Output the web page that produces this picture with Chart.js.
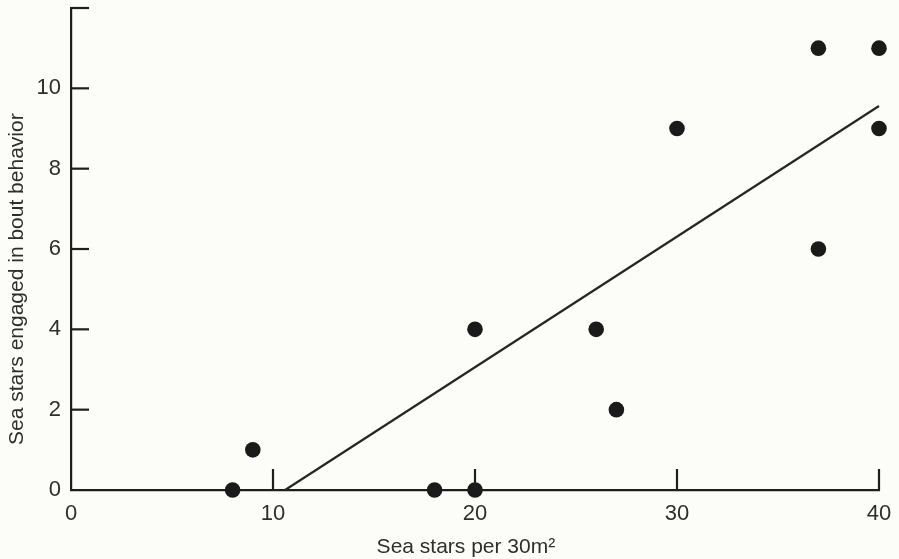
<!DOCTYPE html>
<html>
<head>
<meta charset="utf-8">
<script src="https://cdn.jsdelivr.net/npm/chart.js@4/dist/chart.umd.min.js"></script>
<style>
html,body{margin:0;padding:0;background:#fcfcf8;}
#wrap{width:899px;height:559px;}
</style>
</head>
<body>
<div id="wrap"><canvas id="c" width="899" height="559"></canvas></div>
<script>
// Data
const starDensity = [8, 9, 18, 20, 20, 26, 27, 30, 37, 37, 40, 40];
const boutCount   = [0, 1, 0, 0, 4, 4, 2, 9, 11, 6, 11, 9];
const fitX = [10.6, 40];
const fitY = [0, 9.56];
const xTickValues = [0, 10, 20, 30, 40];
const yTickValues = [0, 2, 4, 6, 8, 10];
const xInwardTicks = [10, 20, 30, 40];
const yInwardTicks = [2, 4, 6, 8, 10, 12];
const xTitle = 'Sea stars per 30m\u00B2';
const yTitle = 'Sea stars engaged in bout behavior';

const INK = '#1e1e1e';
const TEXT = '#2e2e2e';
const FONT = '"Liberation Sans", Arial, sans-serif';

const inwardTicks = {
  id: 'inwardTicks',
  afterDatasetsDraw(chart) {
    const ctx = chart.ctx;
    const xs = chart.scales.x, ys = chart.scales.y;
    ctx.save();
    ctx.strokeStyle = INK;
    ctx.lineWidth = 2.2;
    ctx.lineCap = 'butt';
    const y0 = ys.getPixelForValue(0);
    xInwardTicks.forEach(v => {
      const px = xs.getPixelForValue(v);
      ctx.beginPath(); ctx.moveTo(px, y0); ctx.lineTo(px, y0 - 21); ctx.stroke();
    });
    const x0 = xs.getPixelForValue(0);
    yInwardTicks.forEach(v => {
      const py = ys.getPixelForValue(v);
      ctx.beginPath(); ctx.moveTo(x0, py); ctx.lineTo(x0 + 18, py); ctx.stroke();
    });
    ctx.fillStyle = TEXT;
    ctx.font = '21px ' + FONT;
    ctx.textAlign = 'center';
    ctx.textBaseline = 'middle';
    // x-axis title (sits slightly left of the axis centre in the reference)
    ctx.fillText(xTitle, xs.getPixelForValue(19.55), 547);
    // y-axis title, centred a little below the middle of the axis
    ctx.translate(17, ys.getPixelForValue(5.25));
    ctx.rotate(-Math.PI / 2);
    ctx.fillText(yTitle, 0, 0);
    ctx.restore();
  }
};

new Chart(document.getElementById('c'), {
  type: 'scatter',
  data: {
    datasets: [
      {
        type: 'scatter',
        data: starDensity.map((x, i) => ({x, y: boutCount[i]})),
        pointRadius: 7.8,
        pointHoverRadius: 7.8,
        backgroundColor: '#1a1a1a',
        borderColor: '#1a1a1a',
        borderWidth: 0,
        clip: false,
        order: 1
      },
      {
        type: 'line',
        data: fitX.map((x, i) => ({x, y: fitY[i]})),
        borderColor: '#262626',
        borderWidth: 2.2,
        pointRadius: 0,
        fill: false,
        tension: 0,
        clip: false,
        order: 2
      }
    ]
  },
  options: {
    responsive: false,
    animation: false,
    events: [],
    layout: { padding: { top: 8, right: 20, left: 0, bottom: 0 } },
    plugins: { legend: { display: false }, tooltip: { enabled: false } },
    scales: {
      x: {
        type: 'linear',
        min: 0, max: 40,
        afterFit(s) { s.height = 69; },
        afterBuildTicks(s) { s.ticks = xTickValues.map(v => ({value: v})); },
        grid: { display: false },
        border: { display: true, color: INK, width: 2.2 },
        ticks: {
          color: TEXT, font: { family: FONT, size: 22 }, padding: 3,
          maxRotation: 0, autoSkip: false
        },
        title: { display: false }
      },
      y: {
        type: 'linear',
        min: 0, max: 12,
        afterFit(s) { s.width = 71; s.paddingTop = 0; s.paddingBottom = 0; },
        afterBuildTicks(s) { s.ticks = yTickValues.map(v => ({value: v})); },
        grid: { display: false },
        border: { display: true, color: INK, width: 2.2 },
        ticks: {
          color: TEXT, font: { family: FONT, size: 22 }, padding: 2
        },
        title: { display: false }
      }
    }
  },
  plugins: [inwardTicks]
});
</script>
</body>
</html>
